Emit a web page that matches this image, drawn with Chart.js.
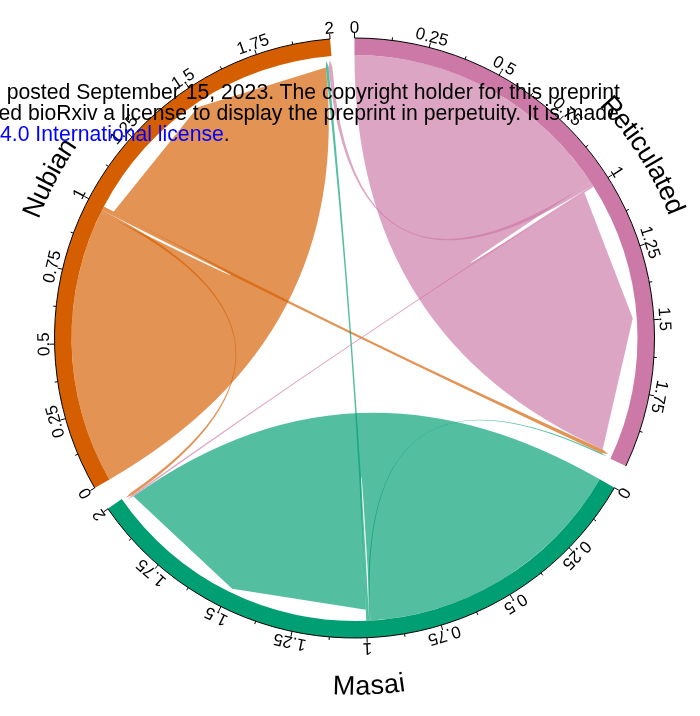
<!DOCTYPE html>
<html>
<head>
<meta charset="utf-8">
<script src="https://cdn.jsdelivr.net/npm/chart.js@4/dist/chart.umd.min.js"></script>
<style>
  html, body { margin: 0; padding: 0; background: #fff; overflow: hidden; }
  #wrap { position: relative; width: 700px; height: 716px; }
  #chord { position: absolute; left: 0; top: 0; }
  .note { position: absolute; font-family: "Liberation Sans", Arial, sans-serif; font-size: 21.2px; line-height: 21.2px; white-space: pre; color: #000; }
  .lead { position: absolute; right: 100%; top: 0; }
  .link { color: #0000ff; }
</style>
</head>
<body>
<div id="wrap">
  <canvas id="chord" width="700" height="716"></canvas>
  <div class="note" style="left:6.7px;top:81px"><span class="lead">version </span>posted September 15, 2023. The copyright holder for this preprint</div>
  <div class="note" style="left:28px;top:102px"><span class="lead">granted </span>bioRxiv a license to display the preprint in perpetuity. It is made</div>
  <div class="note" style="left:0px;top:123px"><span class="link">4.0 International license</span>.</div>
</div>
<script>
// Sectors of the chord diagram and their colours
const sectors = ['Nubian', 'Reticulated', 'Masai'];
const sectorColors = ['#D55E00', '#CC79A7', '#009E73'];

// Share of each sector's samples assigned to Nubian, Reticulated, Masai
const fromNubian      = [0.976, 0.014, 0.010];
const fromReticulated = [0.014, 0.980, 0.006];
const fromMasai       = [0.010, 0.005, 0.985];

// Axis tick labels on every sector
const tickLabels = ['0', '0.25', '0.5', '0.75', '1', '1.25', '1.5', '1.75', '2'];

const flows = [fromNubian, fromReticulated, fromMasai];
const n = sectors.length;
const rowSums = flows.map(r => r.reduce((a, b) => a + b, 0));
const colSums = sectors.map((_, j) => flows.reduce((a, r) => a + r[j], 0));
const totals = sectors.map((_, k) => rowSums[k] + colSums[k]);

const GAP_DEG = 4.67;      // gap between sectors
const START_DEG = -120;    // first sector starts at lower left
const OUTER_R = 300;       // outer edge of the sector ring
const INNER_R = 283;       // inner edge of the sector ring
const sumTotals = totals.reduce((a, b) => a + b, 0);
const gapValue = GAP_DEG * sumTotals / (360 - n * GAP_DEG);

const ringData = [], ringColors = [], ringLabels = [];
totals.forEach((t, k) => {
  ringData.push(t, gapValue);
  ringColors.push(sectorColors[k], 'rgba(0,0,0,0)');
  ringLabels.push(sectors[k], '');
});

// Order of link ends inside a sector: itself first, then the others
function linkOrder(k) { return [k, (k + 2) % n, (k + 1) % n]; }
const srcStart = sectors.map(() => new Array(n).fill(0));
const tgtStart = sectors.map(() => new Array(n).fill(0));
for (let k = 0; k < n; k++) {
  let p = 0;
  for (const j of linkOrder(k)) { srcStart[k][j] = p; p += flows[k][j]; }
  let q = rowSums[k];
  for (const i of linkOrder(k)) { tgtStart[k][i] = q; q += flows[i][k]; }
}
const links = [];
for (let i = 0; i < n; i++) for (let j = 0; j < n; j++) {
  if (flows[i][j] > 0) links.push({ i, j, v: flows[i][j] });
}
links.sort((a, b) => b.v - a.v);

function hexToRgba(hex, a) {
  const v = parseInt(hex.slice(1), 16);
  return `rgba(${(v >> 16) & 255},${(v >> 8) & 255},${v & 255},${a})`;
}

const FONT = "'Liberation Sans', Arial, sans-serif";

const chordPlugin = {
  id: 'chordLinks',
  afterDatasetsDraw(chart) {
    const ctx = chart.ctx;
    const arcs = chart.getDatasetMeta(0).data;
    const cx = arcs[0].x, cy = arcs[0].y;
    const rOut = arcs[0].outerRadius, rIn = arcs[0].innerRadius;
    const rSrc = rIn, rCorner = rIn - 11, rTip = rIn - 4;

    const ang = (k, v) => {
      const a = arcs[2 * k];
      return a.startAngle + (a.endAngle - a.startAngle) * v / totals[k];
    };
    const pt = (r, a) => [cx + r * Math.cos(a), cy + r * Math.sin(a)];

    // links: flat end at the source, arrow-shaped end at the target
    ctx.save();
    for (const L of links) {
      const A1 = ang(L.i, srcStart[L.i][L.j]);
      const A2 = ang(L.i, srcStart[L.i][L.j] + L.v);
      const B1 = ang(L.j, tgtStart[L.j][L.i]);
      const B2 = ang(L.j, tgtStart[L.j][L.i] + L.v);
      ctx.beginPath();
      ctx.arc(cx, cy, rSrc, A1, A2, false);
      let p = pt(rCorner, B1); ctx.quadraticCurveTo(cx, cy, p[0], p[1]);
      p = pt(rTip, (B1 + B2) / 2); ctx.lineTo(p[0], p[1]);
      p = pt(rCorner, B2); ctx.lineTo(p[0], p[1]);
      p = pt(rSrc, A1); ctx.quadraticCurveTo(cx, cy, p[0], p[1]);
      ctx.closePath();
      ctx.fillStyle = hexToRgba(sectorColors[L.i], 0.67);
      ctx.fill();
    }
    ctx.restore();

    // axes, ticks, tick labels
    const tickValues = tickLabels.map(Number);
    const labFont = 17, capLab = 0.716 * labFont;
    ctx.save();
    ctx.strokeStyle = '#000';
    ctx.lineWidth = 1;
    ctx.fillStyle = '#000';
    ctx.font = `${labFont}px ${FONT}`;
    ctx.textAlign = 'center';
    ctx.textBaseline = 'alphabetic';
    for (let k = 0; k < n; k++) {
      ctx.beginPath();
      ctx.arc(cx, cy, rOut, ang(k, 0), ang(k, totals[k]), false);
      ctx.stroke();
      tickValues.forEach((v, t) => {
        if (v > totals[k] + 1e-9) return;
        const a = ang(k, v);
        let p1 = pt(rOut, a), p2 = pt(rOut + 5, a);
        ctx.beginPath(); ctx.moveTo(p1[0], p1[1]); ctx.lineTo(p2[0], p2[1]); ctx.stroke();
        const m = v + 0.125;
        if (t < tickValues.length - 1 && m <= totals[k] + 1e-9) {
          const am = ang(k, m);
          p1 = pt(rOut, am); p2 = pt(rOut + 3, am);
          ctx.beginPath(); ctx.moveTo(p1[0], p1[1]); ctx.lineTo(p2[0], p2[1]); ctx.stroke();
        }
        const pl = pt(rOut + 11.5, a);
        ctx.save();
        ctx.translate(pl[0], pl[1]);
        ctx.rotate(a + Math.PI / 2);
        ctx.fillText(tickLabels[t], 0, capLab / 2);
        ctx.restore();
      });
    }
    ctx.restore();

    // sector names, bent along the circle
    const nameFont = 27, capName = 0.716 * nameFont, rName = rOut + 47;
    ctx.save();
    ctx.fillStyle = '#000';
    ctx.font = `${nameFont}px ${FONT}`;
    ctx.textAlign = 'center';
    ctx.textBaseline = 'alphabetic';
    for (let k = 0; k < n; k++) {
      const mid = ang(k, totals[k] / 2);
      const norm = ((mid % (2 * Math.PI)) + 2 * Math.PI) % (2 * Math.PI);
      const flip = norm > 0 && norm < Math.PI;
      const chars = Array.from(sectors[k]);
      const widths = chars.map(c => ctx.measureText(c).width);
      const W = widths.reduce((a, b) => a + b, 0);
      let acc = 0;
      chars.forEach((c, idx) => {
        const off = (acc + widths[idx] / 2 - W / 2) / rName;
        const a = flip ? mid - off : mid + off;
        const p = pt(rName, a);
        ctx.save();
        ctx.translate(p[0], p[1]);
        ctx.rotate(flip ? a - Math.PI / 2 : a + Math.PI / 2);
        ctx.fillText(c, 0, capName / 2);
        ctx.restore();
        acc += widths[idx];
      });
    }
    ctx.restore();
  }
};

new Chart(document.getElementById('chord'), {
  type: 'doughnut',
  data: {
    labels: ringLabels,
    datasets: [{
      data: ringData,
      backgroundColor: ringColors,
      borderWidth: 0,
      hoverOffset: 0
    }]
  },
  options: {
    responsive: false,
    animation: false,
    events: [],
    rotation: START_DEG,
    radius: OUTER_R,
    cutout: (INNER_R / OUTER_R * 100) + '%',
    layout: { padding: { left: 9, right: 0, top: 0, bottom: 40 } },
    plugins: { legend: { display: false }, tooltip: { enabled: false } }
  },
  plugins: [chordPlugin]
});
</script>
</body>
</html>
